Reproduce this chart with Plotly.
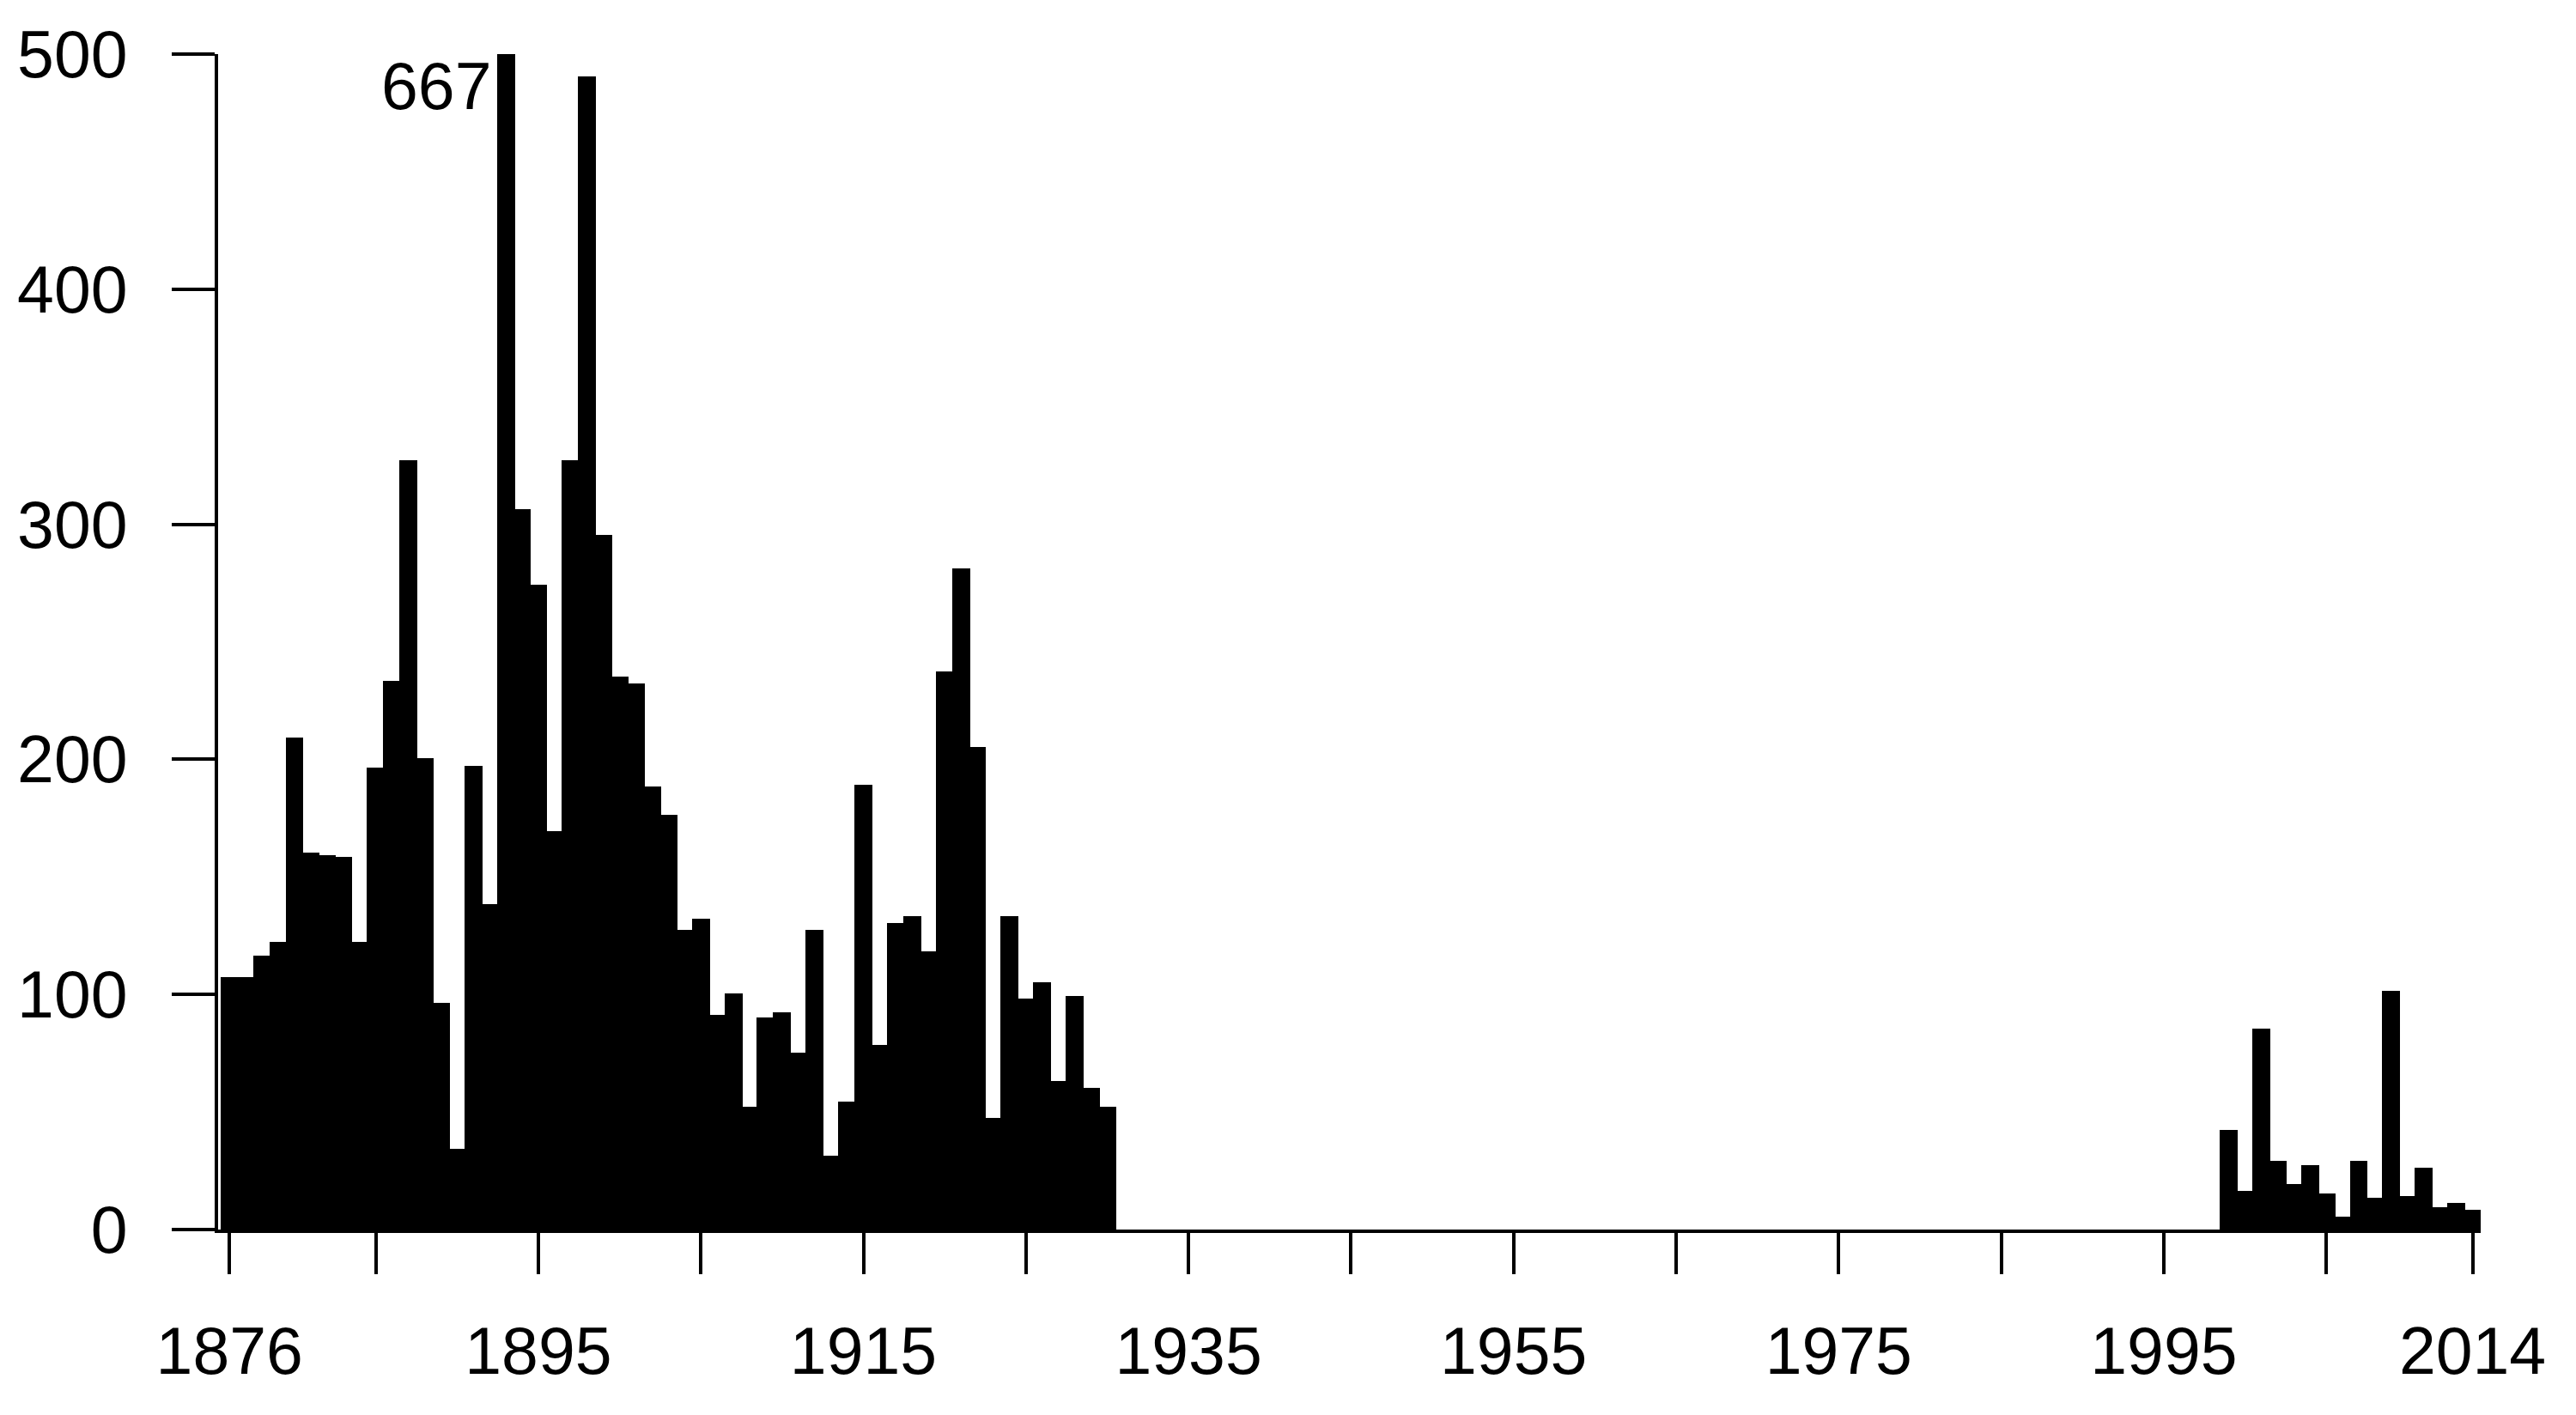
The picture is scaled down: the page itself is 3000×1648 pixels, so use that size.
import plotly.graph_objects as go

# ---- data ----
years_early = [1876, 1877, 1878, 1879, 1880, 1881, 1882, 1883, 1884, 1885,
               1886, 1887, 1888, 1889, 1890, 1891, 1892, 1893, 1894, 1895,
               1896, 1897, 1898, 1899, 1900, 1901, 1902, 1903, 1904, 1905,
               1906, 1907, 1908, 1909, 1910, 1911, 1912, 1913, 1914, 1915,
               1916, 1917, 1918, 1919, 1920, 1921, 1922, 1923, 1924, 1925,
               1926, 1927, 1928, 1929, 1930]
counts_early = [107, 107, 116, 122, 209, 160, 159, 158, 122, 196,
                233, 327, 200, 96, 34, 197, 138, 667, 306, 274,
                169, 327, 490, 295, 235, 232, 188, 176, 127, 132,
                91, 100, 52, 90, 92, 75, 127, 31, 54, 189,
                78, 130, 133, 118, 237, 281, 205, 47, 133, 98,
                105, 63, 99, 60, 52]

years_recent = [1999, 2000, 2001, 2002, 2003, 2004, 2005, 2006, 2007, 2008,
                2009, 2010, 2011, 2012, 2013, 2014]
counts_recent = [42, 16, 85, 29, 19, 27, 15, 5, 29, 13,
                 101, 14, 26, 9, 11, 8]

x_tick_vals = [1876, 1885, 1895, 1905, 1915, 1925, 1935, 1945, 1955, 1965,
               1975, 1985, 1995, 2005, 2014]
x_tick_text = ["1876", "", "1895", "", "1915", "", "1935", "", "1955", "",
               "1975", "", "1995", "", "2014"]
y_tick_vals = [0, 100, 200, 300, 400, 500]

peak_year = 1893
peak_label = "667"

FONT = "Liberation Sans, Arial, sans-serif"

fig = go.Figure()
for xs, ys in ((years_early, counts_early), (years_recent, counts_recent)):
    fig.add_trace(go.Bar(
        x=xs, y=ys, width=1.0,
        marker=dict(color="black", line=dict(color="black", width=2)),
        showlegend=False,
    ))

fig.add_annotation(
    x=peak_year - 0.5, y=486.5, xref="x", yref="y",
    text=peak_label, showarrow=False, xanchor="right", yanchor="middle",
    xshift=-6, font=dict(family=FONT, size=77, color="black"),
)

# page body has an 8px margin, so the figure is 16px smaller than the window
fig.update_layout(
    width=2992, height=1640,
    margin=dict(l=239, r=111, t=50, b=216, pad=0),
    paper_bgcolor="white", plot_bgcolor="white",
    bargap=0, barmode="overlay",
    font=dict(family=FONT, size=77, color="black"),
)

fig.update_xaxes(
    range=[1875.30, 2014.5],
    tickmode="array", tickvals=x_tick_vals, ticktext=x_tick_text,
    ticks="outside", ticklen=48, tickwidth=4, tickcolor="black",
    showline=True, linewidth=4, linecolor="black",
    showgrid=False, zeroline=False,
    tickfont=dict(family=FONT, size=77, color="black"),
    ticklabelstandoff=24,
)
fig.update_yaxes(
    range=[0, 500],
    tickmode="array", tickvals=y_tick_vals,
    ticks="outside", ticklen=50, tickwidth=4, tickcolor="black",
    showline=True, linewidth=4, linecolor="black",
    showgrid=False, zeroline=False,
    tickfont=dict(family=FONT, size=77, color="black"),
    ticklabelstandoff=36,
)

fig.write_html("out.html")
